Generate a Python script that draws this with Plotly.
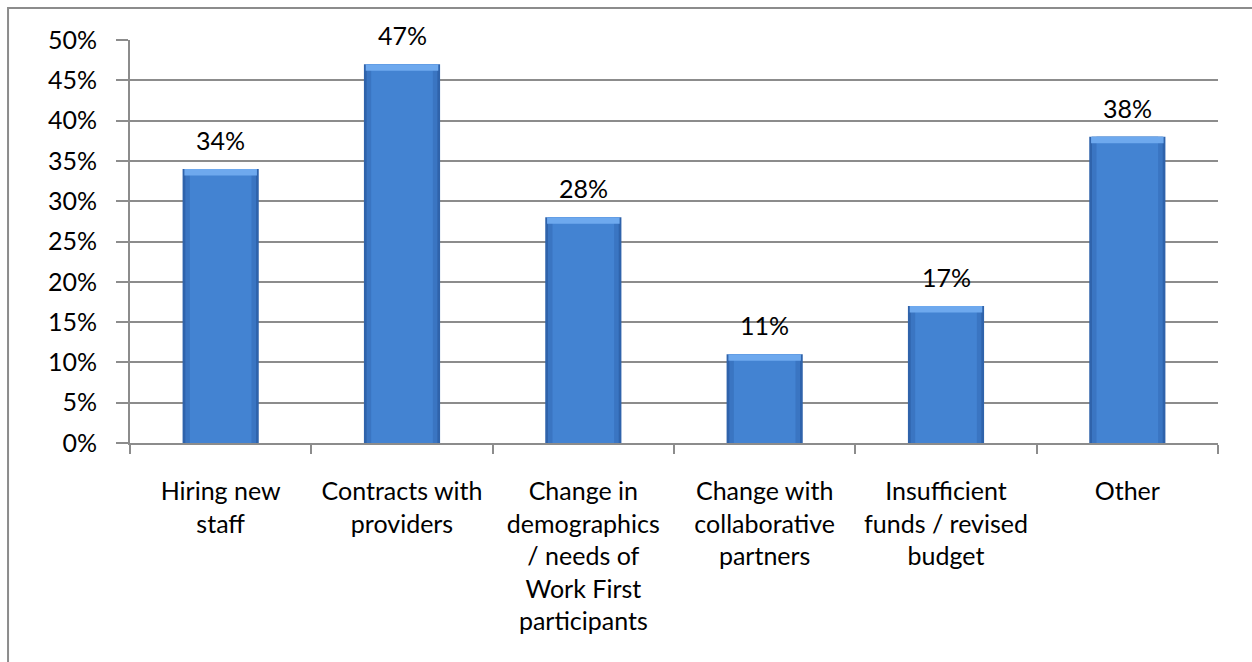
import plotly.graph_objects as go

categories = [
    "Hiring new<br>staff",
    "Contracts with<br>providers",
    "Change in<br>demographics<br>/ needs of<br>Work First<br>participants",
    "Change with<br>collaborative<br>partners",
    "Insufficient<br>funds / revised<br>budget",
    "Other",
]
values = [34, 47, 28, 11, 17, 38]
y_ticks = [0, 5, 10, 15, 20, 25, 30, 35, 40, 45, 50]
y_tick_labels = [f"{v}%" for v in y_ticks]
value_labels = [f"{v}%" for v in values]

FONT = "Lato, Open Sans, sans-serif"
GRID = "#8c8c8c"
BEVEL = 0.8  # height of the lighter cap on top of each bar, in % units

fig = go.Figure()

# bar body: darker edges, lighter centre
for w, col in [(0.42, "#2f63ab"), (0.39, "#3a75c2"), (0.34, "#4383d2")]:
    fig.add_trace(go.Bar(
        x=categories, y=values, width=w,
        marker=dict(color=col, line=dict(width=0)),
        hoverinfo="skip", showlegend=False,
    ))

# lighter bevel along the top of each bar
fig.add_trace(go.Bar(
    x=categories, y=[BEVEL] * len(values), base=[v - BEVEL for v in values],
    width=0.40,
    marker=dict(color="#6ea9ee", line=dict(width=0)),
    hoverinfo="skip", showlegend=False,
))

annotations = [
    dict(x=c, y=v, xref="x", yref="y", text=t, showarrow=False,
         yanchor="bottom", yshift=12,
         font=dict(family=FONT, size=25, color="#000000"))
    for c, v, t in zip(categories, values, value_labels)
]

fig.update_layout(
    width=1252, height=662,
    margin=dict(l=130, r=34, t=40, b=219),
    paper_bgcolor="white", plot_bgcolor="white",
    barmode="overlay",
    font=dict(family=FONT, size=25, color="#000000"),
    annotations=annotations,
    shapes=[dict(
        type="rect", xref="paper", yref="paper",
        x0=-0.1121, x1=1.2, y0=-1.0, y1=1.0794,
        line=dict(color="#8c8c8c", width=2), fillcolor="rgba(0,0,0,0)",
        layer="below",
    )],
)
fig.update_xaxes(
    showline=True, linecolor=GRID, linewidth=2,
    ticks="outside", tickson="boundaries", ticklen=9, tickwidth=2, tickcolor=GRID,
    tickfont=dict(family=FONT, size=25), ticklabelstandoff=25,
    showgrid=False,
)
fig.update_yaxes(
    range=[0, 50], tickvals=y_ticks, ticktext=y_tick_labels,
    showline=True, linecolor=GRID, linewidth=2,
    ticks="outside", ticklen=12, tickwidth=2, tickcolor=GRID,
    showgrid=True, gridcolor=GRID, gridwidth=2,
    tickfont=dict(family=FONT, size=25), ticklabelstandoff=14, zeroline=False,
)

fig.write_html("out.html")
